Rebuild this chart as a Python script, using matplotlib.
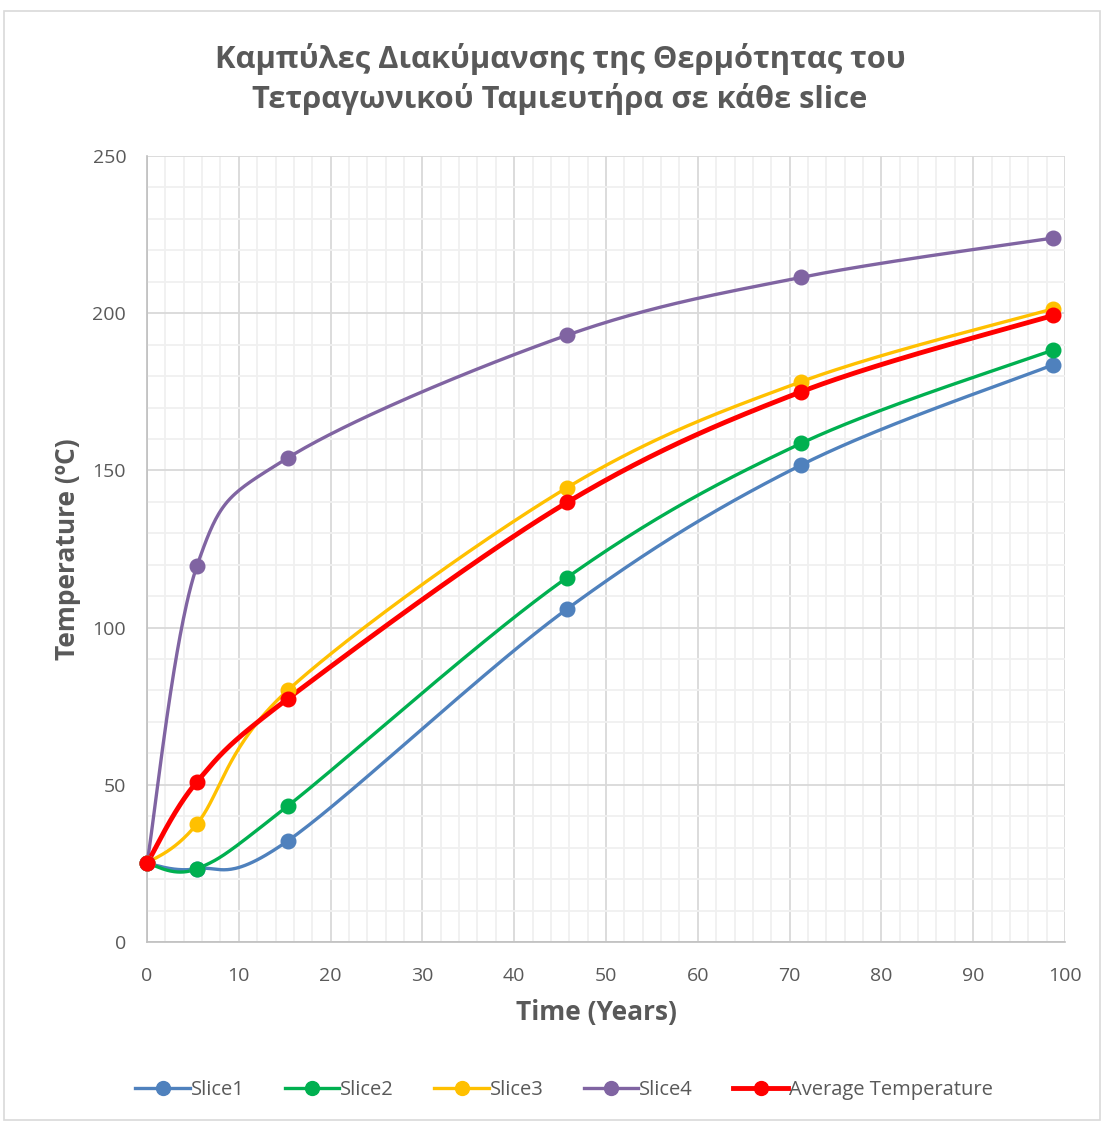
import numpy as np
import matplotlib.pyplot as plt
from matplotlib.patches import Rectangle

plt.rcParams['font.family'] = ['Open Sans', 'DejaVu Sans']

years = [0, 5.45, 15.35, 45.75, 71.25, 98.7]
slice1 = [25, 23.3, 32.2, 105.9, 151.7, 183.6]
slice2 = [25, 23.3, 43.3, 115.9, 158.6, 188.3]
slice3 = [25, 37.6, 80.1, 144.5, 178.2, 201.4]
slice4 = [25, 119.7, 154.0, 193.0, 211.4, 223.9]
average = [25, 51.0, 77.4, 139.8, 175.0, 199.3]

series = [
    ('Slice1', slice1, '#4f81bd', 2.4),
    ('Slice2', slice2, '#00b050', 2.4),
    ('Slice3', slice3, '#ffc000', 2.4),
    ('Slice4', slice4, '#8064a2', 2.4),
    ('Average Temperature', average, '#ff0000', 3.5),
]

XMAX, YMAX = 100, 250
# plot area size in pixels, used so the smoothing works in screen space
PW, PH = 918, 786


def smooth(xs, ys, n=60):
    # Bezier smoothing with control points at 1/6 of neighbour chord
    px = np.array(xs) * PW / XMAX
    py = np.array(ys) * PH / YMAX
    pts = np.column_stack([px, py])
    out = []
    for i in range(len(pts) - 1):
        p0 = pts[i - 1] if i > 0 else pts[i]
        p1 = pts[i]
        p2 = pts[i + 1]
        p3 = pts[i + 2] if i + 2 < len(pts) else pts[i + 1]
        c1 = p1 + (p2 - p0) / 6
        c2 = p2 - (p3 - p1) / 6
        t = np.linspace(0, 1, n)[:, None]
        seg = ((1 - t) ** 3 * p1 + 3 * (1 - t) ** 2 * t * c1
               + 3 * (1 - t) * t ** 2 * c2 + t ** 3 * p2)
        out.append(seg if i == 0 else seg[1:])
    out = np.vstack(out)
    return out[:, 0] * XMAX / PW, out[:, 1] * YMAX / PH


fig = plt.figure(figsize=(11.02, 11.22), dpi=100)
ax = fig.add_axes([147 / 1102, 1 - 942 / 1122, 918 / 1102, 786 / 1122])

for name, vals, col, lw in series:
    sx, sy = smooth(years, vals)
    ax.plot(sx, sy, color=col, lw=lw, solid_capstyle='round', clip_on=False, zorder=3)
    ax.plot(years, vals, 'o', color=col, ms=10.5, clip_on=False, zorder=4)
    # proxy handle for the legend
    ax.plot([], [], '-o', color=col, lw=lw, ms=10, label=name)

ax.set_xlim(0, XMAX)
ax.set_ylim(0, YMAX)
ax.set_xticks(np.arange(0, 101, 10))
ax.set_xticks(np.arange(0, 101, 2), minor=True)
ax.set_yticks(np.arange(0, 251, 50))
ax.set_yticks(np.arange(0, 251, 10), minor=True)
ax.grid(which='major', color='#d9d9d9', lw=1.3)
ax.grid(which='minor', color='#f0f0f0', lw=1.3)
ax.set_axisbelow(True)
for s in ['top', 'right']:
    ax.spines[s].set_visible(False)
for s in ['left', 'bottom']:
    ax.spines[s].set_color('#bfbfbf')
    ax.spines[s].set_linewidth(1.2)
ax.tick_params(which='both', length=0, labelsize=14, colors='#595959')
ax.tick_params(axis='x', pad=18)
ax.tick_params(axis='y', pad=15)

ax.set_xlabel('Time (Years)', fontsize=19, fontweight='bold', color='#595959')
ax.xaxis.set_label_coords(0.49, -0.073)
ax.set_ylabel('Temperature (ºC)', fontsize=19, fontweight='bold', color='#595959', labelpad=8)

fig.text(560 / 1102, 1 - 79 / 1122, 'Καμπύλες Διακύμανσης της Θερμότητας του\nΤετραγωνικού Ταμιευτήρα σε κάθε slice',
         ha='center', va='center', fontsize=22.2, fontweight='bold', color='#595959', linespacing=1.33)

fig.legend(loc='center', bbox_to_anchor=(564 / 1102, 1 - 1090 / 1122), ncol=5, frameon=False,
           fontsize=14.5, labelcolor='#595959', handlelength=2.7, columnspacing=2.0,
           handletextpad=0.05)

fig.patches.append(Rectangle((4 / 1102, 0.002), 1 - 6 / 1102, 1 - 13 / 1122, transform=fig.transFigure,
                             fill=False, edgecolor='#d9d9d9', lw=1.2))

fig.savefig('out.png', dpi=100, facecolor='white')
